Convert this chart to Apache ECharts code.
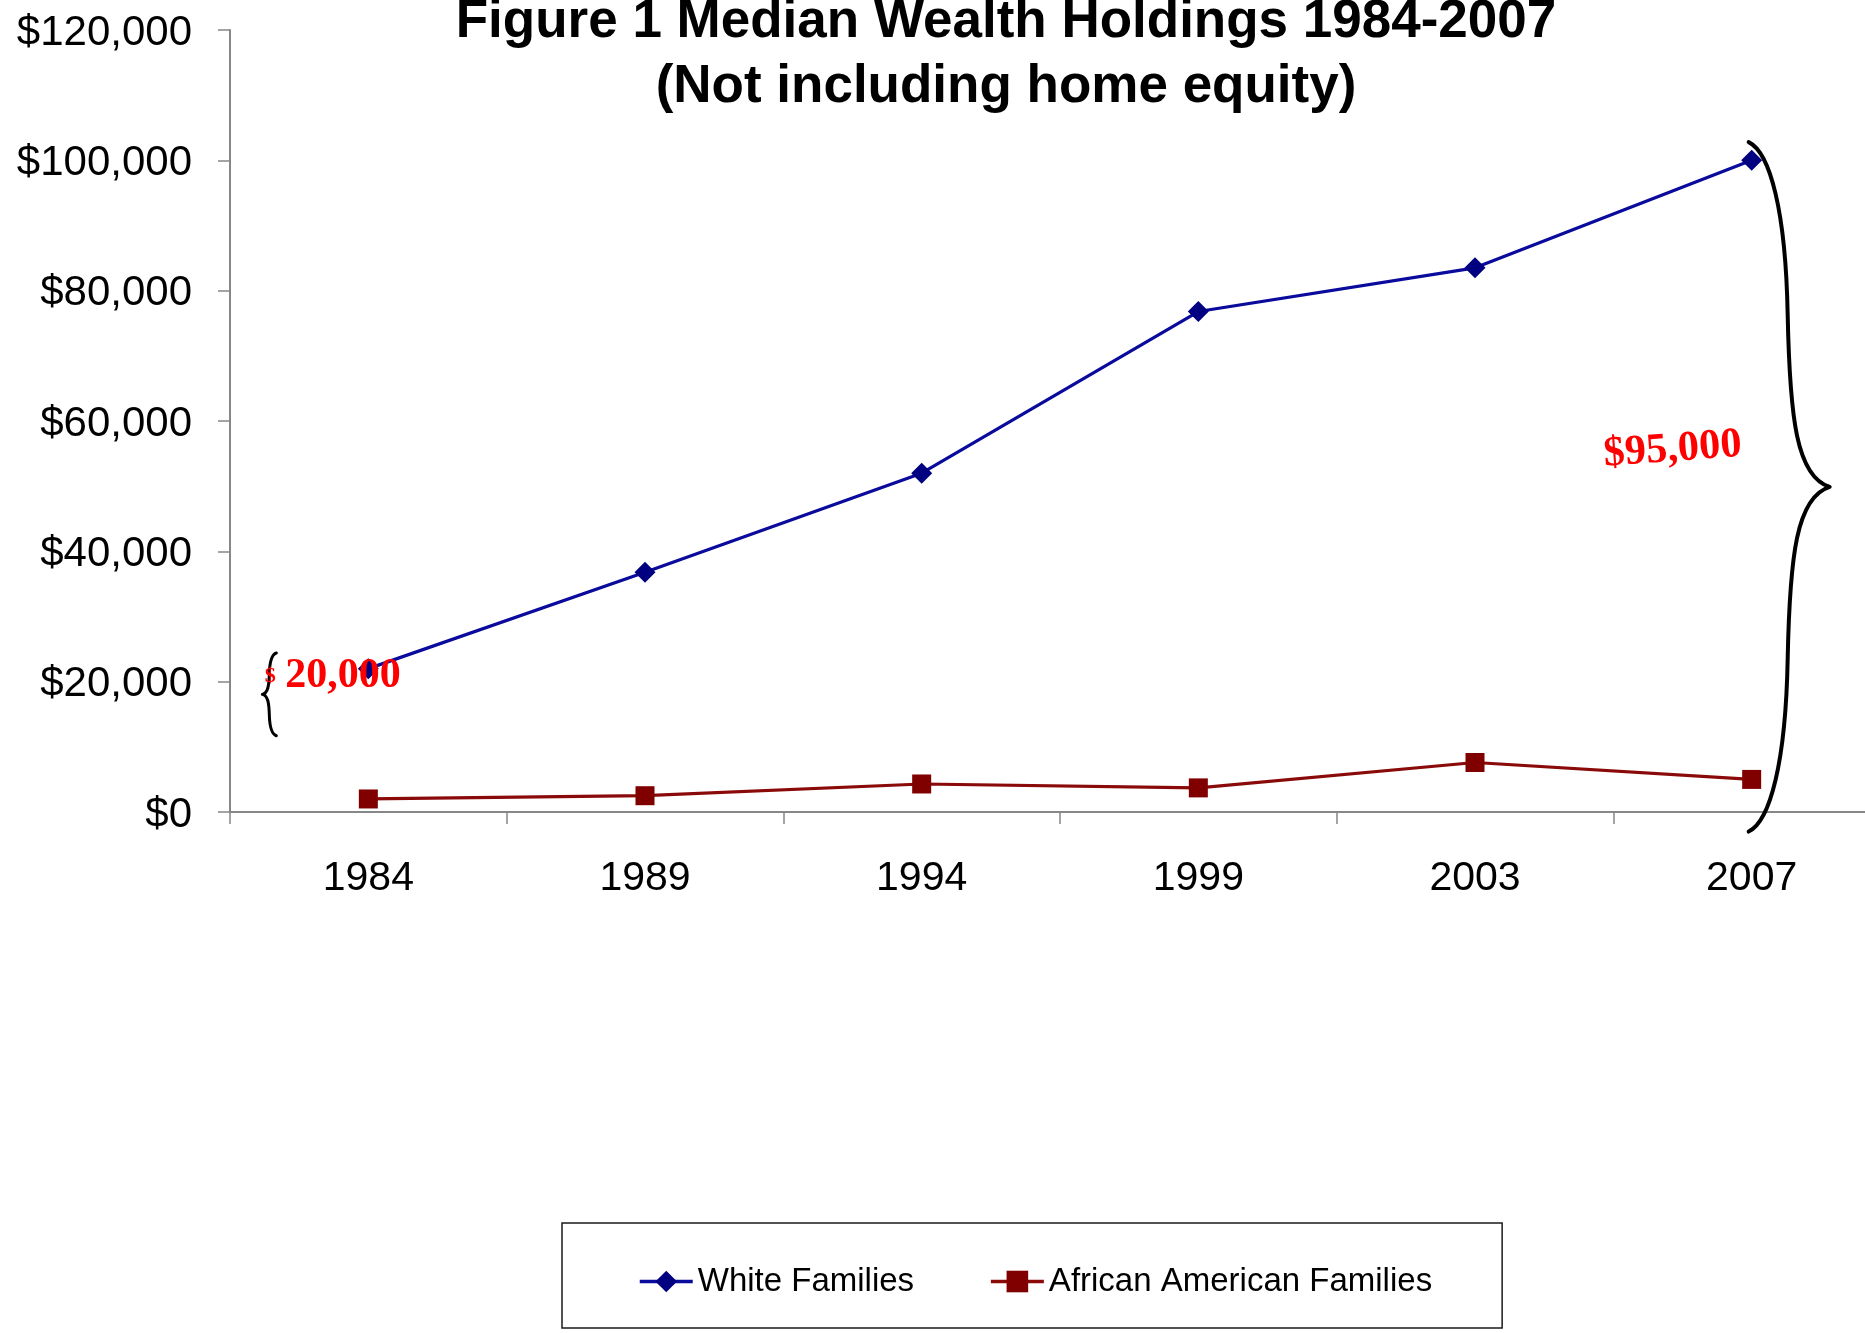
<!DOCTYPE html>
<html>
<head>
<meta charset="utf-8">
<title>Figure 1 Median Wealth Holdings 1984-2007</title>
<script src="https://cdn.jsdelivr.net/npm/echarts@6/dist/echarts.min.js"></script>
<style>
  html, body { margin: 0; padding: 0; background: #ffffff; }
  #chart { width: 1865px; height: 1333px; }
</style>
</head>
<body>
<div id="chart"></div>
<script>
// ---- data ----
const years = ['1984', '1989', '1994', '1999', '2003', '2007'];
const whiteFamilies = [22000, 36800, 52000, 76800, 83500, 100000];
const africanAmericanFamilies = [2000, 2500, 4300, 3700, 7600, 5000];
const seriesNames = ['White Families', 'African American Families'];
const yAxisMin = 0;
const yAxisMax = 120000;
const yAxisStep = 20000;
// braces marking the wealth gap: year index, top and bottom of the brace (in dollars)
const braceYearIndex = [0, 5];
const braceTop = [24400, 102800];
const braceBottom = [11700, -3000];

// ---- styling / layout of the gap annotations ----
const SANS = '"Liberation Sans", Arial, Helvetica, sans-serif';
const SERIF = '"Liberation Serif", "Times New Roman", Times, serif';
const braceLayout = [
  { dx: -92, dir: -1, stem: 7, tip: 14, lineWidth: 3,
    text: { smallDollar: true, dollarDx: -6, numberDx: 9, dy: -18.5, size: 42, rotate: 0 } },
  { dx: -3, dir: 1, stem: 39, tip: 81, lineWidth: 4,
    text: { smallDollar: false, dx: -76, dy: -37, size: 42.5, rotate: 4.2 } }
];

function fmtMoney(v) {
  return '$' + Number(v).toLocaleString('en-US');
}

// curly brace from (x0,yT) to (x0,yB), pointing in direction dir
function bracePath(x0, yT, yB, dir, s, w) {
  const h = (yB - yT) / 2;
  const ym = yT + h;
  const X = (d) => (x0 + dir * d).toFixed(2);
  const Y = (v) => v.toFixed(2);
  const a = s + 0.05 * (w - s);
  const b = s + 0.21 * (w - s);
  return [
    'M', X(0), Y(yT),
    'C', X(0.55 * s), Y(yT + 0.03 * h), X(0.95 * s), Y(yT + 0.2 * h), X(s), Y(yT + 0.5 * h),
    'C', X(a), Y(yT + 0.8 * h), X(b), Y(yT + 0.97 * h), X(w), Y(ym),
    'C', X(b), Y(ym + 0.03 * h), X(a), Y(ym + 0.2 * h), X(s), Y(ym + 0.5 * h),
    'C', X(0.95 * s), Y(yB - 0.2 * h), X(0.55 * s), Y(yB - 0.03 * h), X(0), Y(yB)
  ].join(' ');
}

const braceData = braceYearIndex.map((c, i) => [c, braceTop[i], braceBottom[i]]);

function renderBrace(params, api) {
  const i = params.dataIndex;
  const cfg = braceLayout[i];
  const c = api.value(0);
  const pT = api.coord([c, api.value(1)]);
  const pB = api.coord([c, api.value(2)]);
  const x0 = pT[0] + cfg.dx;
  const ym = (pT[1] + pB[1]) / 2;
  const gap = whiteFamilies[c] - africanAmericanFamilies[c];
  const children = [{
    type: 'path',
    shape: { pathData: bracePath(x0, pT[1], pB[1], cfg.dir, cfg.stem, cfg.tip) },
    style: { stroke: '#000000', lineWidth: cfg.lineWidth, fill: null, lineCap: 'round', lineJoin: 'round' }
  }];
  const t = cfg.text;
  if (t.smallDollar) {
    children.push({
      type: 'text', x: x0 + t.dollarDx, y: ym + t.dy,
      style: { text: '$', font: 'bold 22px ' + SERIF, fill: '#ff0000', align: 'center', verticalAlign: 'middle' }
    });
    children.push({
      type: 'text', x: x0 + t.numberDx, y: ym + t.dy,
      style: { text: Number(gap).toLocaleString('en-US'), font: 'bold ' + t.size + 'px ' + SERIF,
               fill: '#ff0000', align: 'left', verticalAlign: 'middle' }
    });
  } else {
    children.push({
      type: 'text', x: x0 + t.dx, y: ym + t.dy, rotation: t.rotate * Math.PI / 180,
      style: { text: fmtMoney(gap), font: 'bold ' + t.size + 'px ' + SERIF,
               fill: '#ff0000', align: 'center', verticalAlign: 'middle' }
    });
  }
  return { type: 'group', children: children };
}

const chart = echarts.init(document.getElementById('chart'), null, { renderer: 'canvas' });

chart.setOption({
  animation: false,
  backgroundColor: '#ffffff',
  title: {
    text: 'Figure 1 Median Wealth Holdings 1984-2007\n(Not including home equity)',
    left: 1006,
    top: -10.5,
    padding: 0,
    textAlign: 'center',
    textStyle: { fontFamily: SANS, fontSize: 53, fontWeight: 'bold', color: '#000000', lineHeight: 65 }
  },
  // the plot runs a little past the right edge of the canvas
  grid: { left: 230, top: 30, width: 1660, height: 782, containLabel: false, outerBoundsMode: 'none' },
  legend: {
    data: seriesNames,
    left: 562,
    top: 1223,
    padding: [42, 70, 30, 76],
    itemWidth: 53,
    itemHeight: 27,
    itemGap: 75,
    selectedMode: false,
    borderColor: '#1a1a1a',
    borderWidth: 1.5,
    lineStyle: { width: 3.5 },
    textStyle: { fontFamily: SANS, fontSize: 33, color: '#000000' }
  },
  xAxis: {
    type: 'category',
    data: years,
    boundaryGap: true,
    axisLine: { show: true, lineStyle: { color: '#878787', width: 2 } },
    axisTick: { show: true, length: 12, alignWithLabel: false, lineStyle: { color: '#878787', width: 1.5 } },
    axisLabel: { fontFamily: SANS, fontSize: 41, color: '#000000', margin: 46 },
    splitLine: { show: false }
  },
  yAxis: {
    type: 'value',
    min: yAxisMin,
    max: yAxisMax,
    interval: yAxisStep,
    axisLine: { show: true, lineStyle: { color: '#878787', width: 2 } },
    axisTick: { show: true, length: 12, lineStyle: { color: '#878787', width: 1.5 } },
    axisLabel: {
      fontFamily: SANS, fontSize: 42, color: '#000000', margin: 38,
      formatter: (v) => '{v|' + fmtMoney(v) + '}',
      rich: { v: { fontFamily: SANS, fontSize: 42, color: '#000000', padding: [6, 0, 0, 0] } }
    },
    splitLine: { show: false }
  },
  series: [
    {
      name: seriesNames[0],
      type: 'line',
      data: whiteFamilies,
      symbol: 'diamond',
      symbolSize: 21,
      itemStyle: { color: '#000080' },
      lineStyle: { color: '#0a0a9c', width: 3.2 },
      z: 3
    },
    {
      name: seriesNames[1],
      type: 'line',
      data: africanAmericanFamilies,
      symbol: 'rect',
      symbolSize: 19,
      itemStyle: { color: '#800000' },
      lineStyle: { color: '#8a0a0a', width: 3.2 },
      z: 3
    },
    {
      name: 'gap',
      type: 'custom',
      data: braceData,
      renderItem: renderBrace,
      silent: true,
      clip: false,
      z: 5
    }
  ]
});
</script>
</body>
</html>
